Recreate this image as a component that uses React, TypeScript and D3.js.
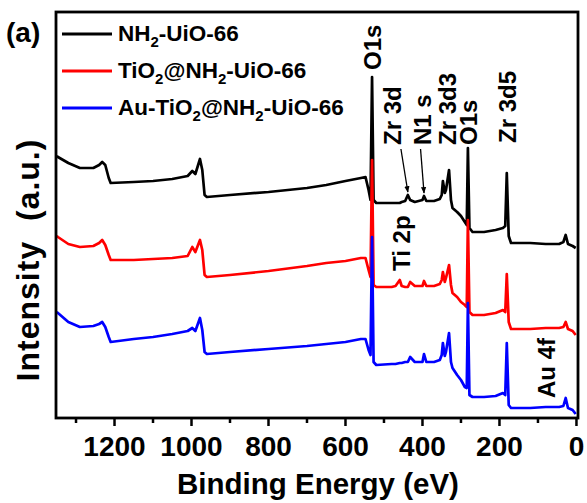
import React from 'react';
import * as d3 from 'd3';

// Binding energy grid (eV)
const energies = [1350, 1347, 1320, 1290, 1255, 1240, 1232, 1224, 1215, 1210, 1150, 1100, 1050, 1010, 998, 990, 978, 972, 966, 960, 900, 800, 700, 650, 600, 560, 548, 540, 535, 531, 527, 520, 480, 470, 459, 454, 445, 438, 432, 420, 400, 396, 390, 370, 355, 350, 347, 342, 339, 331, 326, 322, 310, 300, 290, 285, 282, 278, 270, 240, 210, 191, 185, 181, 176, 170, 120, 80, 45, 34, 28, 22, 10, 2];

// Intensities (a.u., offset stacked as in the figure)
const nh2UiO66 = [262, 261, 255, 250, 250, 253, 256, 253, 240, 235, 236, 237, 239, 242, 247, 244, 259, 248, 223, 221, 223, 226, 230, 233, 237, 240, 241, 228, 218, 341, 218, 215, 215, 215, 215, 216, 217, 223, 218, 216, 218, 222, 217, 217, 219, 223, 237, 225, 228, 248, 218, 210, 206, 202, 196, 193, 270, 190, 186, 186, 188, 190, 192, 245, 182, 175, 175, 174, 174, 176, 183, 174, 172, 170];
const tio2NH2UiO66 = [182, 181, 174, 171, 172, 175, 178, 173, 163, 158, 158, 159, 160, 162, 171, 166, 178, 168, 143, 141, 143, 147, 152, 155, 157, 160, 160, 148, 141, 258, 133, 131, 131, 132, 138, 132, 131, 131, 136, 132, 132, 137, 132, 132, 134, 138, 146, 136, 140, 153, 133, 125, 121, 116, 113, 111, 198, 106, 103, 103, 105, 108, 106, 144, 96, 89, 89, 90, 90, 91, 96, 89, 87, 83];
const auTiO2NH2UiO66 = [106, 105, 96, 91, 92, 94, 96, 91, 81, 76, 79, 81, 84, 87, 90, 87, 100, 88, 66, 64, 66, 69, 72, 74, 76, 79, 79, 68, 63, 181, 56, 53, 54, 54, 55, 55, 56, 56, 61, 56, 56, 64, 56, 56, 58, 63, 75, 62, 66, 85, 56, 50, 43, 38, 31, 30, 115, 23, 21, 21, 22, 25, 23, 75, 13, 10, 10, 11, 11, 12, 20, 10, 8, 4];

const seriesColors = ['#000000', '#ff0000', '#0000ff'];
const xMajorTicks = [1200, 1000, 800, 600, 400, 200, 0];
const xMinorTicks = [1300, 1100, 900, 700, 500, 300, 100];

// Peak annotations: label text and binding energy (eV) where the label sits
const peakLabelTexts = ['O1s', 'Zr 3d', 'N1 s', 'Zr 3d3', 'O1s', 'Zr 3d5', 'Ti 2p', 'Au 4f'];
const peakLabelEnergies = [531, 477, 401, 335, 281, 180, 456, 79];
// Arrows: from label energy to peak energy (on NH2-UiO-66 curve)
const arrowFromEnergies = [456, 405];
const arrowToEnergies = [438, 396];

const W = 587;
const H = 503;
const M = { left: 56, right: 578, top: 12, bottom: 418 };
const FONT = "'Liberation Sans', Arial, Helvetica, sans-serif";

export default function App() {
  const x = d3.scaleLinear().domain([1352, -4]).range([M.left, M.right]);
  const y = d3.scaleLinear().domain([0, 406]).range([M.bottom, M.top]);
  const allSeries = [nh2UiO66, tio2NH2UiO66, auTiO2NH2UiO66];
  const line = d3
    .line<number>()
    .x((_, i) => x(energies[i]))
    .y((d) => y(d));

  // pixel layout for label bottoms (text runs upward)
  const labelBottoms = [70, 145, 145, 145, 145, 143, 271, 398];

  const blackAt = (e: number) => nh2UiO66[energies.indexOf(e)];

  const sub = (s: string) => (
    <>
      <tspan dy={6} fontSize={15}>{s}</tspan>
    </>
  );

  return (
    <svg width={W} height={H} style={{ display: 'block', position: 'absolute', left: 0, top: 0 }} fontFamily={FONT}>
      <defs>
        <marker id="arr" viewBox="0 0 10 10" refX="9" refY="5" markerWidth="5" markerHeight="6" orient="auto">
          <path d="M0,1 L10,5 L0,9 z" fill="#000" />
        </marker>
      </defs>
      <rect x={0} y={0} width={W} height={H} fill="#fff" />
      {/* curves */}
      {allSeries.map((s, k) => (
        <path key={k} d={line(s) || ''} fill="none" stroke={seriesColors[k]} strokeWidth={2.7} strokeLinejoin="round" />
      ))}
      {/* frame */}
      <rect x={M.left} y={M.top} width={M.right - M.left} height={M.bottom - M.top} fill="none" stroke="#000" strokeWidth={2.8} />
      {/* ticks */}
      {xMajorTicks.map((t) => (
        <g key={'M' + t}>
          <line x1={x(t)} x2={x(t)} y1={M.bottom} y2={M.bottom + 8} stroke="#000" strokeWidth={2.5} />
          <text x={x(t)} y={456} textAnchor="middle" fontSize={28} fontWeight="bold">{t}</text>
        </g>
      ))}
      {xMinorTicks.map((t) => (
        <line key={'m' + t} x1={x(t)} x2={x(t)} y1={M.bottom} y2={M.bottom + 5} stroke="#000" strokeWidth={2.5} />
      ))}
      {/* axis titles */}
      <text x={(M.left + M.right) / 2 + 1} y={494} textAnchor="middle" fontSize={29.5} fontWeight="bold">Binding Energy (eV)</text>
      <text transform="translate(39,260) rotate(-90)" textAnchor="middle" fontSize={32} fontWeight="bold" letterSpacing={1} style={{ whiteSpace: 'pre' }}>{'Intensity  (a.u.)'}</text>
      <text x={6} y={42} fontSize={28} fontWeight="bold">(a)</text>
      {/* legend */}
      {[0, 1, 2].map((k) => (
        <g key={'lg' + k} transform={`translate(0,${37 * k})`}>
          <line x1={62} x2={112} y1={34} y2={34} stroke={seriesColors[k]} strokeWidth={3} />
          <text x={118} y={41} fontSize={22.5} fontWeight="bold">
            {k === 0 && (
              <>
                NH{sub('2')}<tspan dy={-6}>-UiO-66</tspan>
              </>
            )}
            {k === 1 && (
              <>
                TiO{sub('2')}<tspan dy={-6}>@NH</tspan>{sub('2')}<tspan dy={-6}>-UiO-66</tspan>
              </>
            )}
            {k === 2 && (
              <>
                Au-TiO{sub('2')}<tspan dy={-6}>@NH</tspan>{sub('2')}<tspan dy={-6}>-UiO-66</tspan>
              </>
            )}
          </text>
        </g>
      ))}
      {/* peak labels */}
      {peakLabelTexts.map((t, i) => (
        <text
          key={'pl' + i}
          transform={`translate(${x(peakLabelEnergies[i])},${labelBottoms[i]}) rotate(-90)`}
          dy="0.36em"
          fontSize={24}
          fontWeight="bold"
        >
          {t}
        </text>
      ))}
      {/* arrows */}
      {arrowFromEnergies.map((e, i) => (
        <line
          key={'ar' + i}
          x1={x(e)}
          y1={149}
          x2={x(arrowToEnergies[i])}
          y2={y(blackAt(arrowToEnergies[i]) + 3)}
          stroke="#000"
          strokeWidth={1.3}
          markerEnd="url(#arr)"
        />
      ))}
    </svg>
  );
}
